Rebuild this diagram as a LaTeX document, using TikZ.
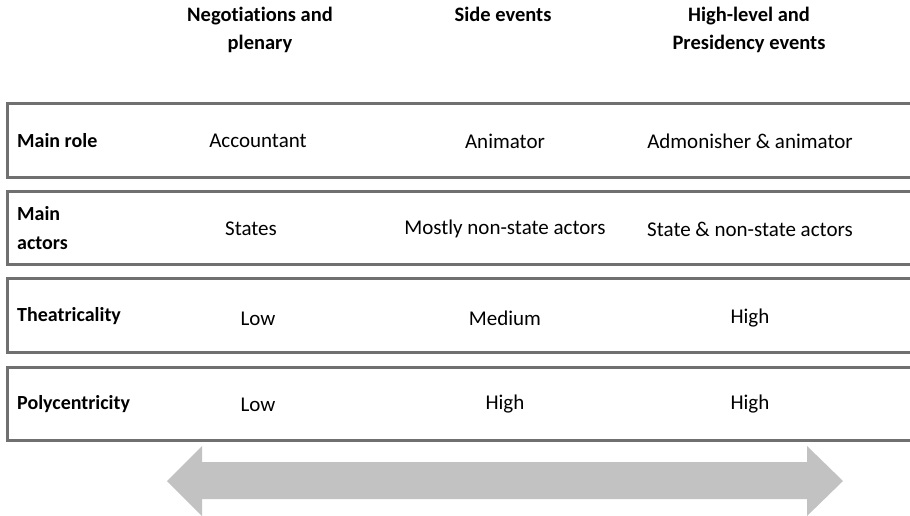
\documentclass[tikz,border=0pt]{standalone}
\usepackage{fontspec}
\setmainfont{Carlito}[Ligatures=NoCommon]
\definecolor{boxgray}{HTML}{707070}
\definecolor{arrowgray}{HTML}{C2C2C2}
\tikzset{
  rowbox/.style={draw=boxgray, line width=3pt, fill=white},
  hdr/.style={font=\fontsize{20.5}{28}\selectfont\bfseries, align=center, anchor=north, inner sep=0pt},
  rowlabel/.style={font=\fontsize{20}{29}\selectfont\bfseries, align=left, anchor=west, inner sep=0pt},
  cell/.style={font=\fontsize{21}{24}\selectfont, anchor=center, inner sep=0pt},
}
\begin{document}
\begin{tikzpicture}[x=1pt,y=-1pt]
\useasboundingbox (0,0) rectangle (910,516);
\fill[white] (0,0) rectangle (910,516);
% headers
\node[hdr] (h1) at (260,7) {Negotiations and\\plenary};
\node[hdr] (h2) at (503,7) {Side events};
\node[hdr] (h3) at (749,7) {High-level and\\Presidency events};
% row boxes
\draw[rowbox] (7,104) rectangle (925,177);
\draw[rowbox] (7,191) rectangle (925,264);
\draw[rowbox] (7,278) rectangle (925,352);
\draw[rowbox] (7,367) rectangle (925,440);
% row 1
\node[rowlabel] (l1) at (17,141) {Main role};
\node[cell] (c11) at (258,141) {Accountant};
\node[cell] (c12) at (505,141) {Animator};
\node[cell] (c13) at (750,141) {Admonisher \& animator};
% row 2
\node[rowlabel] (l2) at (17,228) {Main\\actors};
\node[cell] (c21) at (251,229) {States};
\node[cell] (c22) at (505,229) {Mostly non-state actors};
\node[cell] (c23) at (750,229) {State \& non-state actors};
% row 3
\node[rowlabel] (l3) at (17,316) {Theatricality};
\node[cell] (c31) at (258,319) {Low};
\node[cell] (c32) at (505,318) {Medium};
\node[cell] (c33) at (750,318) {High};
% row 4
\node[rowlabel] (l4) at (17,404) {Polycentricity};
\node[cell] (c41) at (258,405) {Low};
\node[cell] (c42) at (505,404) {High};
\node[cell] (c43) at (750,404) {High};
% double arrow
\fill[arrowgray] (167,481) -- (202,446) -- (202,462) -- (807,462) -- (807,446)
  -- (843,481) -- (807,516) -- (807,499) -- (202,499) -- (202,516) -- cycle;
\end{tikzpicture}
\end{document}
